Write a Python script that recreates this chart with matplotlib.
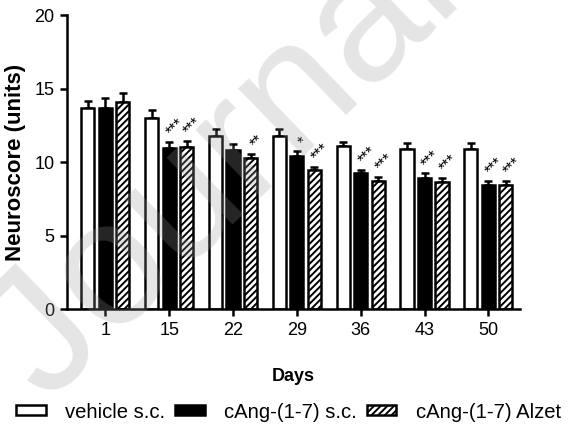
import numpy as np
import matplotlib.pyplot as plt

plt.rcParams['font.family'] = ['Liberation Sans', 'DejaVu Sans']

# data
days = ["1", "15", "22", "29", "36", "43", "50"]
vehicle = [13.7, 13.0, 11.8, 11.8, 11.1, 10.9, 10.9]
vehicle_err = [0.45, 0.55, 0.5, 0.45, 0.3, 0.4, 0.4]
cang_sc = [13.7, 10.95, 10.85, 10.45, 9.25, 8.95, 8.45]
cang_sc_err = [0.65, 0.45, 0.4, 0.3, 0.25, 0.3, 0.3]
cang_alzet = [14.1, 11.05, 10.3, 9.5, 8.75, 8.65, 8.45]
cang_alzet_err = [0.6, 0.4, 0.28, 0.22, 0.28, 0.3, 0.3]
stars_sc = ["", "***", "", "*", "***", "***", "***"]
stars_alzet = ["", "***", "**", "***", "***", "***", "***"]

fig = plt.figure(figsize=(5.68, 4.24), dpi=100)
ax = fig.add_axes([0.118, 0.2705, 0.798, 0.693])

x = np.arange(len(days))
w = 0.205
off = 0.274
lw = 1.8
plt.rcParams['hatch.linewidth'] = 1.4

series = [
    (vehicle, vehicle_err, dict(facecolor="white", edgecolor="black"), "vehicle s.c."),
    (cang_sc, cang_sc_err, dict(facecolor="black", edgecolor="black"), "cAng-(1-7) s.c."),
    (cang_alzet, cang_alzet_err, dict(facecolor="white", edgecolor="black", hatch="/////"), "cAng-(1-7) Alzet"),
]

for i, (vals, errs, style, lab) in enumerate(series):
    pos = x + (i - 1) * off
    ax.bar(pos, vals, width=w, linewidth=lw, label=lab, zorder=2, **style)
    ax.errorbar(pos, vals, yerr=[np.zeros(len(vals)), errs], fmt="none",
                ecolor="black", elinewidth=lw, capsize=3, capthick=lw, zorder=1)

# significance stars
for i in range(len(days)):
    for k, stars, vals, errs in [(0, stars_sc, cang_sc, cang_sc_err),
                                 (1, stars_alzet, cang_alzet, cang_alzet_err)]:
        if stars[i]:
            ax.text(x[i] + k * off + 0.1, vals[i] + errs[i] + 0.15, stars[i],
                    rotation=45, ha="center", va="bottom", fontsize=11.5)

ax.set_xlim(-0.6, 6.5)
ax.set_ylim(0, 20)
ax.set_xticks(x)
ax.set_xticklabels(days)
ax.set_yticks([0, 5, 10, 15, 20])
ax.spines["top"].set_visible(False)
ax.spines["right"].set_visible(False)
ax.spines["left"].set_linewidth(lw)
ax.spines["bottom"].set_linewidth(lw)
ax.tick_params(width=lw, length=5, labelsize=13, pad=4)
ax.set_xlabel("Days", fontsize=13, fontweight="bold", labelpad=21)
ax.set_ylabel("Neuroscore (units)", fontsize=16, fontweight="bold", labelpad=6)

fig.legend(loc="center", bbox_to_anchor=(0.508, 0.028), ncol=3, frameon=False,
           fontsize=14.6, handlelength=1.45, handleheight=0.38, columnspacing=0.5,
           handletextpad=0.95, borderpad=0, borderaxespad=0)

# watermark, semi-transparent over the chart
fig.text(0.08, 0.05, "Journal", fontsize=128, color="#999999", alpha=0.25,
         rotation=44, rotation_mode="anchor", ha="left", va="baseline", zorder=10)

fig.savefig("out.png", dpi=100)
